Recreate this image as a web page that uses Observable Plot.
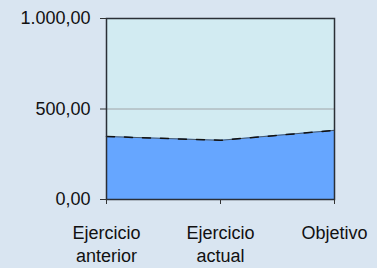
<!DOCTYPE html>
<html>
<head>
<meta charset="utf-8">
<script src="https://cdn.jsdelivr.net/npm/d3@7"></script>
<script src="https://cdn.jsdelivr.net/npm/@observablehq/plot@0.6"></script>
<style>
  html, body { margin: 0; padding: 0; background: #d9e5f1; }
  #chart { width: 377px; height: 268px; overflow: hidden; }
</style>
</head>
<body>
<div id="chart"></div>
<script>
const categories = ["Ejercicio\nanterior", "Ejercicio\nactual", "Objetivo"];
const values = [348, 327, 382];
const yTicks = [0, 500, 1000];

const data = categories.map((c, i) => ({cat: c, value: values[i]}));
const loc = d3.formatLocale({decimal: ",", thousands: ".", grouping: [3], currency: ["", "€"]});
const fmt = loc.format(",.2f");

const chart = Plot.plot({
  width: 377,
  height: 268,
  marginLeft: 106,
  marginRight: 43,
  marginTop: 18,
  marginBottom: 69,
  style: {background: "#d9e5f1", fontFamily: "Liberation Sans, Arial, sans-serif", fontSize: "18px", color: "#111"},
  x: {type: "point", domain: categories, padding: 0, label: null},
  y: {domain: [0, 1000], label: null},
  marks: [
    Plot.frame({fill: "#d2ebf2", stroke: null}),
    Plot.ruleY([500], {stroke: "#a0a4a8", strokeWidth: 1}),
    Plot.areaY(data, {x: "cat", y: "value", fill: "#66a6ff"}),
    Plot.lineY(data, {x: "cat", y: "value", stroke: "#4a5a6a", strokeWidth: 1}),
    Plot.lineY(data, {x: "cat", y: "value", stroke: "#111", strokeWidth: 1.5, strokeDasharray: "8 10"}),
    Plot.frame({stroke: "#2a2f36", strokeWidth: 1.5}),
    Plot.axisY({ticks: yTicks, tickFormat: fmt, tickSize: 6, tickPadding: 10, stroke: "#333", fill: "#111", fontSize: 18, letterSpacing: "0.8px", label: null}),
    Plot.axisX({tickSize: 5, tickPadding: 19, stroke: "#333", fill: "#111", fontSize: 18, lineHeight: 1.25, letterSpacing: "0.8px", label: null})
  ]
});
document.getElementById("chart").appendChild(chart);
</script>
</body>
</html>
